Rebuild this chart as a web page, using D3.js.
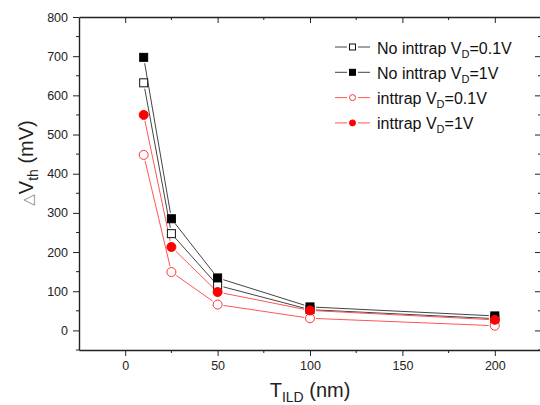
<!doctype html>
<html>
<head>
<meta charset="utf-8">
<script src="https://cdnjs.cloudflare.com/ajax/libs/d3/7.8.5/d3.min.js"></script>
<style>
  body { margin: 0; background: white; }
  svg { display: block; font-family: Arial, "Liberation Sans", sans-serif; }
  .axis text { font-size: 12.5px; fill: #222; }
  .axis path, .axis line { stroke: #222; }
</style>
</head>
<body>
<script>
// thickness of the ILD (nm)
var thickness = [10, 25, 50, 100, 200];

// delta Vth (mV) per series
var noTrap01 = [632, 247, 115, 53, 30];
var noTrap1  = [697, 285, 134, 60, 37];
var trap01   = [448, 149, 66, 31, 12];
var trap1    = [550, 213, 98, 51, 27];

var seriesNames = ["No inttrap V|D|=0.1V", "No inttrap V|D|=1V", "inttrap V|D|=0.1V", "inttrap V|D|=1V"];
var xTicks = [0, 50, 100, 150, 200];
var yTicks = [0, 100, 200, 300, 400, 500, 600, 700, 800];

var series = [
  { name: seriesNames[0], values: noTrap01, shape: "square", fill: "white", stroke: "#111", line: "#444" },
  { name: seriesNames[1], values: noTrap1,  shape: "square", fill: "#000",  stroke: "#000", line: "#444" },
  { name: seriesNames[2], values: trap01,   shape: "circle", fill: "white", stroke: "#ff3333", line: "#ff5555" },
  { name: seriesNames[3], values: trap1,    shape: "circle", fill: "#ff0000", stroke: "#ff0000", line: "#ff5555" }
];

var width = 540, height = 405;
var mLeft = 79, mRight = 541, mTop = 17, mBottom = 350;

var svg = d3.select("body").append("svg")
  .attr("width", width)
  .attr("height", height);

var x = d3.scaleLinear().domain([-25, 225]).range([mLeft, mRight]);
var y = d3.scaleLinear().domain([-50, 800]).range([mBottom, mTop]);

var xMinor = [25, 75, 125, 175, 225];
var yMinor = [-50, 50, 150, 250, 350, 450, 550, 650, 750];

// bottom axis (ticks out)
var gb = svg.append("g").attr("class", "axis")
  .attr("transform", "translate(0," + mBottom + ")");
gb.call(d3.axisBottom(x).tickValues(xTicks).tickSize(6).tickSizeOuter(0).tickPadding(5));
gb.append("g").selectAll("line").data(xMinor).enter().append("line")
  .attr("x1", d => x(d)).attr("x2", d => x(d)).attr("y1", 0).attr("y2", 3)
  .attr("stroke", "#222");

// left axis (ticks out)
var gl = svg.append("g").attr("class", "axis")
  .attr("transform", "translate(" + mLeft + ",0)");
gl.call(d3.axisLeft(y).tickValues(yTicks).tickSize(6).tickSizeOuter(0).tickPadding(5));
gl.append("g").selectAll("line").data(yMinor).enter().append("line")
  .attr("y1", d => y(d)).attr("y2", d => y(d)).attr("x1", 0).attr("x2", -3)
  .attr("stroke", "#222");

// top axis (ticks in)
var gt = svg.append("g").attr("class", "axis")
  .attr("transform", "translate(0," + mTop + ")");
gt.call(d3.axisTop(x).tickValues(xTicks).tickSize(-6).tickSizeOuter(0).tickFormat(""));
gt.append("g").selectAll("line").data(xMinor).enter().append("line")
  .attr("x1", d => x(d)).attr("x2", d => x(d)).attr("y1", 0).attr("y2", 3)
  .attr("stroke", "#222");

// right axis (ticks in)
var gr = svg.append("g").attr("class", "axis")
  .attr("transform", "translate(" + mRight + ",0)");
gr.call(d3.axisRight(y).tickValues(yTicks).tickSize(-6).tickSizeOuter(0).tickFormat(""));
gr.append("g").selectAll("line").data(yMinor).enter().append("line")
  .attr("y1", d => y(d)).attr("y2", d => y(d)).attr("x1", 0).attr("x2", -3)
  .attr("stroke", "#222");

svg.selectAll(".axis path.domain").attr("stroke-width", 1.4);

// lines with small gaps around the markers
var gap = 6;
series.forEach(function(s) {
  var pts = thickness.map((t, i) => [x(t), y(s.values[i])]);
  var g = svg.append("g");
  for (var i = 0; i < pts.length - 1; i++) {
    var a = pts[i], b = pts[i + 1];
    var dx = b[0] - a[0], dy = b[1] - a[1];
    var len = Math.sqrt(dx * dx + dy * dy);
    if (len <= 2 * gap) continue;
    var ux = dx / len, uy = dy / len;
    g.append("line")
      .attr("x1", a[0] + ux * gap).attr("y1", a[1] + uy * gap)
      .attr("x2", b[0] - ux * gap).attr("y2", b[1] - uy * gap)
      .attr("stroke", s.line).attr("stroke-width", 1);
  }
});

function marker(g, s, cx, cy, size) {
  if (s.shape === "square") {
    g.append("rect")
      .attr("x", cx - size / 2).attr("y", cy - size / 2)
      .attr("width", size).attr("height", size)
      .attr("fill", s.fill).attr("stroke", s.stroke).attr("stroke-width", 1);
  } else {
    g.append("circle")
      .attr("cx", cx).attr("cy", cy).attr("r", size / 2)
      .attr("fill", s.fill).attr("stroke", s.stroke).attr("stroke-width", 1);
  }
}

series.forEach(function(s) {
  var g = svg.append("g");
  thickness.forEach(function(t, i) {
    marker(g, s, x(t), y(s.values[i]), s.shape === "square" ? 8 : 9);
  });
});

// legend
var legend = svg.append("g").attr("transform", "translate(335,47)");
series.forEach(function(s, i) {
  var row = legend.append("g").attr("transform", "translate(0," + (i * 25.3) + ")");
  row.append("line").attr("x1", 0).attr("x2", 12).attr("y1", 0).attr("y2", 0)
    .attr("stroke", s.line).attr("stroke-width", 1);
  row.append("line").attr("x1", 23).attr("x2", 35).attr("y1", 0).attr("y2", 0)
    .attr("stroke", s.line).attr("stroke-width", 1);
  marker(row, s, 17.5, 0, 6);
  var parts = s.name.split("|");
  var t = row.append("text").attr("x", 42).attr("y", 6.5)
    .attr("font-size", 16).attr("fill", "#111");
  t.append("tspan").text(parts[0]);
  t.append("tspan").attr("dy", 4).attr("font-size", 11).text(parts[1]);
  t.append("tspan").attr("dy", -4).text(parts[2]);
});

// axis titles
var xl = svg.append("text")
  .attr("x", 310).attr("y", 397)
  .attr("text-anchor", "middle")
  .attr("font-size", 20).attr("fill", "#222");
xl.append("tspan").text("T");
xl.append("tspan").attr("dy", 5).attr("font-size", 14).text("ILD");
xl.append("tspan").attr("dy", -5).text(" (nm)");

var yl = svg.append("text")
  .attr("transform", "translate(33,163) rotate(-90)")
  .attr("text-anchor", "middle")
  .attr("font-size", 20).attr("fill", "#222");
yl.append("tspan").attr("font-size", 15).attr("fill", "#888")
  .attr("font-family", "DejaVu Sans").text("\u25B3");
yl.append("tspan").text("V");
yl.append("tspan").attr("dy", 5).attr("font-size", 14).text("th");
yl.append("tspan").attr("dy", -5).text(" (mV)");
</script>
</body>
</html>
